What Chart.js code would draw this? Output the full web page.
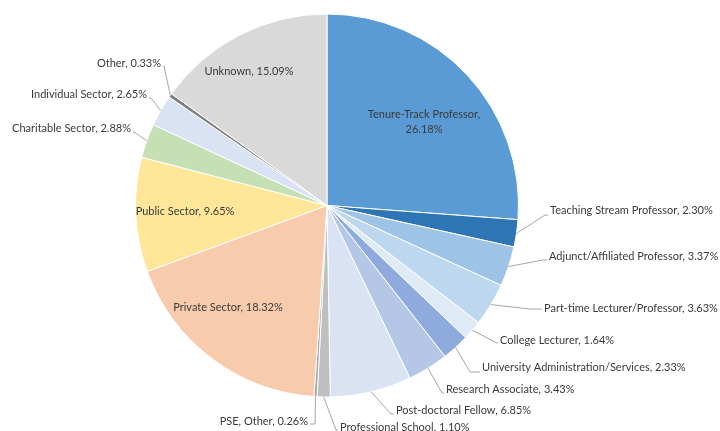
<!DOCTYPE html>
<html>
<head>
<meta charset="utf-8">
<script src="https://cdn.jsdelivr.net/npm/chart.js@4/dist/chart.umd.min.js"></script>
<style>
  html, body { margin: 0; padding: 0; background: #fff; }
  #wrap { width: 720px; height: 431px; }
</style>
</head>
<body>
<div id="wrap"><canvas id="chart"></canvas></div>
<script>
const categories = [
  "Tenure-Track Professor", "Teaching Stream Professor", "Adjunct/Affiliated Professor",
  "Part-time Lecturer/Professor", "College Lecturer", "University Administration/Services",
  "Research Associate", "Post-doctoral Fellow", "Professional School", "PSE, Other",
  "Private Sector", "Public Sector", "Charitable Sector", "Individual Sector", "Other", "Unknown"
];
const shares = [26.18, 2.30, 3.37, 3.63, 1.64, 2.33, 3.43, 6.85, 1.10, 0.26, 18.32, 9.65, 2.88, 2.65, 0.33, 15.09];
const colors = [
  "#5B9BD5", "#2E75B6", "#9DC3E6", "#BDD7EE", "#DEEBF7", "#8FAADC",
  "#B4C7E7", "#DAE3F3", "#BFBFBF", "#A6A6A6", "#F8CBAD", "#FFE699",
  "#C5E0B4", "#DAE3F3", "#7F7F7F", "#D9D9D9"
];

// label placement, offsets from the pie centre
// inside: [dx, dy]; outside: [tx, ty, align, elbowX, elbowY]
const labelSpots = [
  ["in", 97, -84],
  ["out", 223, 4.5, "left", 218, 9.5],
  ["out", 222, 50.5, "left", 216, 54.5],
  ["out", 217, 102.5, "left", 203, 103.5],
  ["out", 173, 134.5, "left", 170, 137.5],
  ["out", 155, 161.5, "left", 143, 166.5],
  ["out", 119, 183.5, "left", 115, 187.5],
  ["out", 69, 204.5, "left", 64, 208.5],
  ["out", 13, 221.5, "left", 9, 224.5],
  ["out", -19, 215.5, "right", -12, 218.5],
  ["in", -99, 101.5],
  ["in", -142, 5.5],
  ["out", -196, -77.5, "right", -193, -73.5],
  ["out", -180, -111.5, "right", -176, -107.5],
  ["out", -166, -142.5, "right", -163, -139.5],
  ["in", -78, -134.5]
];

const pieLabels = {
  id: "pieLabels",
  afterDatasetsDraw(chart) {
    const ctx = chart.ctx;
    const meta = chart.getDatasetMeta(0);
    ctx.save();
    ctx.font = "11px Lato, sans-serif";
    ctx.textBaseline = "middle";
    meta.data.forEach((arc, i) => {
      const { x, y, startAngle, endAngle, outerRadius } = arc.getProps(
        ["x", "y", "startAngle", "endAngle", "outerRadius"], true);
      const spot = labelSpots[i];
      const text = categories[i] + ", " + shares[i].toFixed(2) + "%";
      ctx.fillStyle = "#3a3a3a";
      if (spot[0] === "in") {
        ctx.textAlign = "center";
        if (i === 0) {
          ctx.fillText(categories[i] + ",", x + spot[1], y + spot[2] - 7.5);
          ctx.fillText(shares[i].toFixed(2) + "%", x + spot[1], y + spot[2] + 7.5);
        } else {
          ctx.fillText(text, x + spot[1], y + spot[2]);
        }
        return;
      }
      const mid = (startAngle + endAngle) / 2;
      const ax = x + Math.cos(mid) * outerRadius;
      const ay = y + Math.sin(mid) * outerRadius;
      const tx = x + spot[1], ty = y + spot[2];
      const ex = x + spot[4], ey = y + spot[5];
      const endX = spot[3] === "left" ? tx - 2 : tx + 2;
      ctx.strokeStyle = "#A6A6A6";
      ctx.lineWidth = 1;
      ctx.beginPath();
      ctx.moveTo(ax, ay);
      ctx.lineTo(ex, ey);
      ctx.lineTo(endX, ey);
      ctx.stroke();
      ctx.textAlign = spot[3];
      ctx.fillText(text, tx, ty);
    });
    ctx.restore();
  }
};

new Chart(document.getElementById("chart"), {
  type: "pie",
  data: {
    labels: categories,
    datasets: [{
      data: shares,
      backgroundColor: colors,
      borderColor: "#ffffff",
      borderWidth: 1
    }]
  },
  options: {
    responsive: true,
    maintainAspectRatio: false,
    animation: false,
    layout: { padding: { top: 13.5, bottom: 33.5, left: 100, right: 166 } },
    plugins: {
      legend: { display: false },
      tooltip: { enabled: false }
    }
  },
  plugins: [pieLabels]
});
</script>
</body>
</html>
